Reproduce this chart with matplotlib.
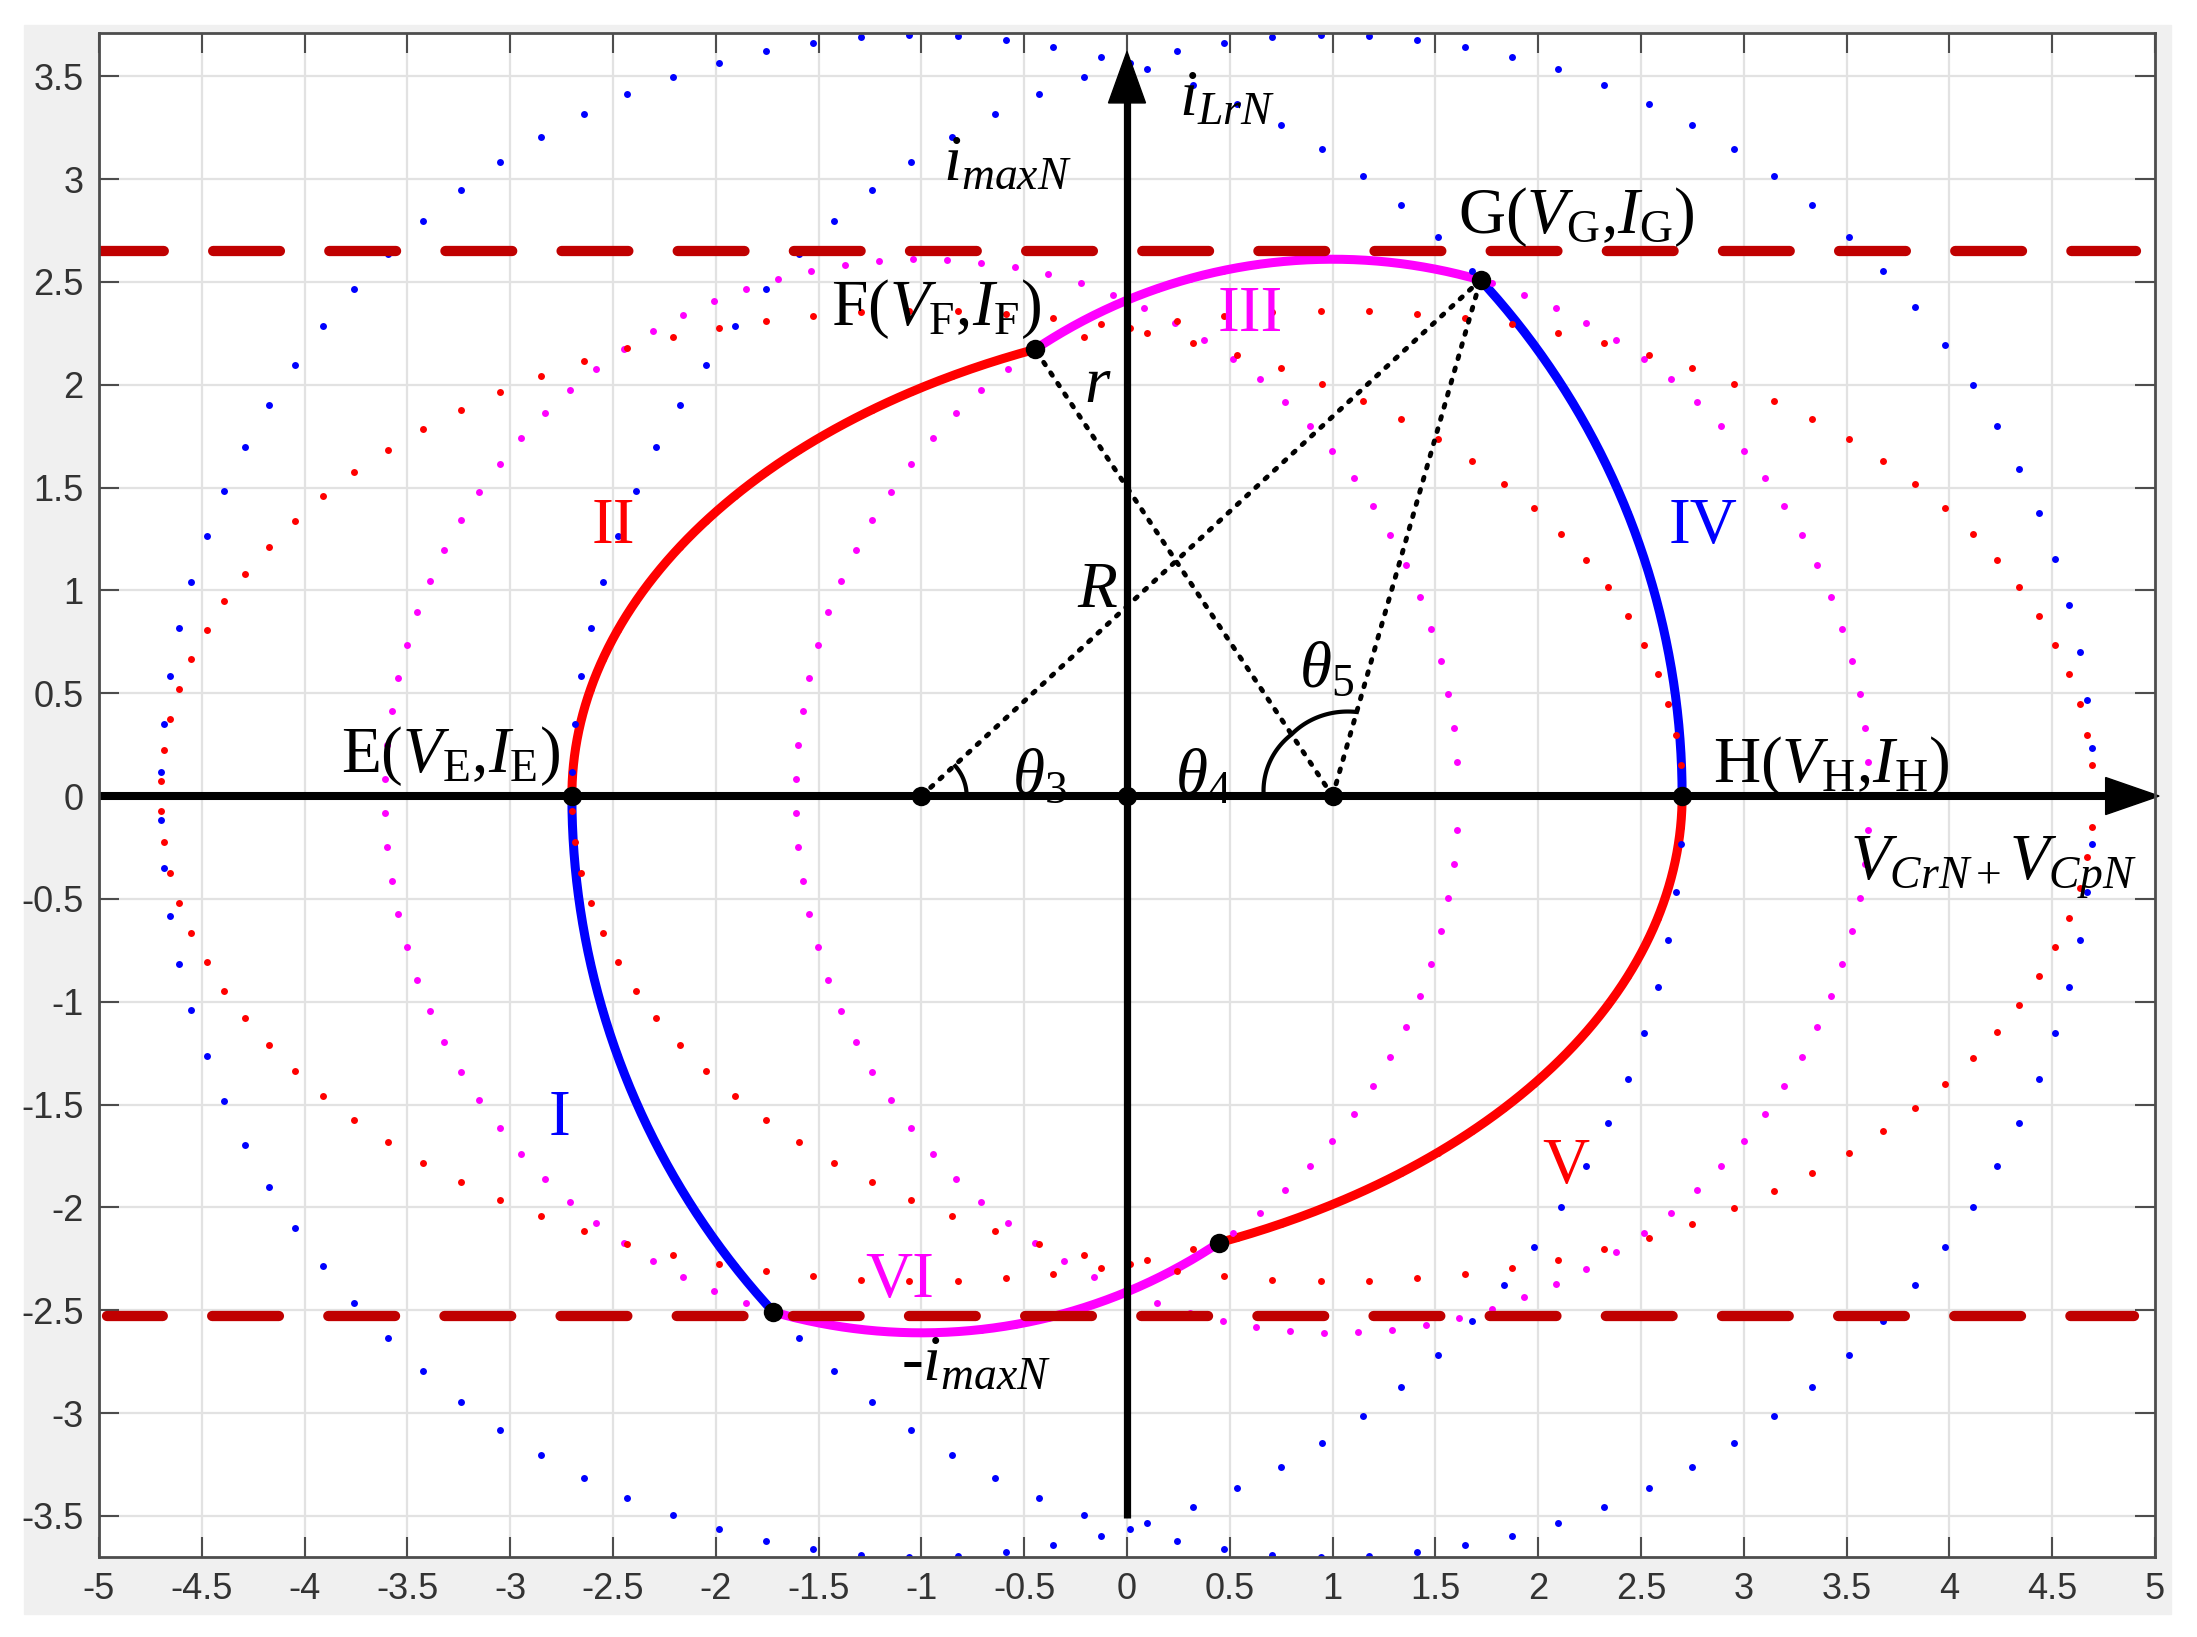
import numpy as np
import matplotlib
matplotlib.use("Agg")
import matplotlib.pyplot as plt
from matplotlib.patches import Rectangle, Polygon

# values (normalised plane)
centers = [-1.0, 1.0]        # resonance centres on the voltage axis
R_big = 3.7                  # blue circles, radius R
r_small = 2.61               # magenta circles, radius r
ell_a, ell_b = 3.7, 2.36     # red ellipses, semi axes
n_dots = 100                 # points per dotted curve
i_max_top = 2.65             # dashed limit lines
i_max_bot = -2.53

xticks = np.arange(-5, 5.01, 0.5)
yticks = np.arange(-3.5, 3.51, 0.5)

plt.rcParams["axes.unicode_minus"] = False
plt.rcParams["mathtext.fontset"] = "custom"
plt.rcParams["mathtext.rm"] = "Liberation Serif"
plt.rcParams["mathtext.it"] = "Liberation Serif:italic"

SERIF = "Liberation Serif"
BLUE, RED, MAG, DRED = "#0000ff", "#ff0000", "#ff00ff", "#c00000"

fig = plt.figure(figsize=(21.97, 16.37), dpi=100, facecolor="white")
fig.patches.append(Rectangle((24 / 2197, 1 - 1614 / 1637), 2147 / 2197, 1589 / 1637,
                             transform=fig.transFigure, color="#f0f0f0", zorder=-10))
ax = fig.add_axes([99 / 2197, 1 - 1557 / 1637, 2056 / 2197, 1524 / 1637])
ax.set_xlim(-5, 5)
ax.set_ylim(-3.70, 3.71)

# dotted circles / ellipses
th = np.linspace(0, 2 * np.pi, n_dots)
for c in centers:
    ax.plot(c + r_small * np.cos(th), r_small * np.sin(th), "o", color=MAG, ms=5, mew=0, zorder=4)
    ax.plot(c + ell_a * np.cos(th), ell_b * np.sin(th), "o", color=RED, ms=5, mew=0, zorder=4)
    ax.plot(c + R_big * np.cos(th), R_big * np.sin(th), "o", color=BLUE, ms=5, mew=0, zorder=4)

# switching points
gx = (R_big ** 2 - r_small ** 2) / 4
gy = np.sqrt(r_small ** 2 - (gx - 1) ** 2)
u2 = (1 - r_small ** 2 / ell_b ** 2) / (1 / ell_a ** 2 - 1 / ell_b ** 2)
fx = 1 - np.sqrt(u2)
fy = np.sqrt(r_small ** 2 - u2)
ex, hx = 1 - R_big, R_big - 1


def arc(cx, rx, ry, t0, t1):
    t = np.linspace(t0, t1, 200)
    return cx + rx * np.cos(t), ry * np.sin(t)


tF = np.arctan2(fy / ell_b, (fx - 1) / ell_a)
segs = [
    (arc(1, R_big, R_big, np.pi, np.arctan2(-gy, -gx - 1) + 2 * np.pi), BLUE),          # I
    (arc(1, ell_a, ell_b, tF, np.pi), RED),                                             # II
    (arc(1, r_small, r_small, np.arctan2(gy, gx - 1), np.arctan2(fy, fx - 1)), MAG),    # III
    (arc(-1, R_big, R_big, 0, np.arctan2(gy, gx + 1)), BLUE),                           # IV
    (arc(-1, ell_a, ell_b, tF - np.pi, 0), RED),                                        # V
    (arc(-1, r_small, r_small, np.arctan2(-gy, -gx + 1) + 2 * np.pi,
         np.arctan2(-fy, -fx + 1) + 2 * np.pi), MAG),                                   # VI
]
for (xs, ys), col in segs:
    ax.plot(xs, ys, color=col, lw=6.5, solid_capstyle="butt", zorder=3)

# dashed limits
ax.plot([-5.01, 4.91], [i_max_top] * 2, color=DRED, lw=7.4,
        linestyle=(0, (6.5, 4.8)), dash_capstyle="round", zorder=5)
ax.plot([-4.96, 4.90], [i_max_bot] * 2, color=DRED, lw=7.4,
        linestyle=(1.07, (6.5, 4.8)), dash_capstyle="round", zorder=5)

# coordinate axes with arrows
ax.plot([-5.0, 4.8], [0, 0], color="k", lw=5.8, solid_capstyle="round", zorder=6)
ax.plot([0, 0], [-3.51, 3.4], color="k", lw=5.2, solid_capstyle="butt", zorder=6)
ax.add_patch(Polygon([(5.02, 0), (4.76, 0.09), (4.76, -0.09)], color="k", zorder=6, clip_on=False))
ax.add_patch(Polygon([(0, 3.62), (-0.09, 3.37), (0.09, 3.37)], color="k", zorder=6))

# construction lines
dot_kw = dict(color="k", lw=3.5, linestyle=(0, (0.6, 2.0)), dash_capstyle="round", zorder=6)
ax.plot([-1, gx], [0, gy], **dot_kw)
ax.plot([1, gx], [0, gy], **dot_kw)
ax.plot([1, fx], [0, fy], **dot_kw)

# angle marks
t = np.linspace(0, np.arctan2(gy, gx + 1) * 0.97, 50)
ax.plot(-1 + 0.22 * np.cos(t), 0.22 * np.sin(t), color="k", lw=3, zorder=6)
a_g, a_f = np.arctan2(gy, gx - 1), np.arctan2(fy, fx - 1)
t = np.linspace(a_g, np.pi, 120)
rad = np.interp(t, [a_g, a_f, np.pi], [0.425, 0.36, 0.335])
ax.plot(1 + rad * np.cos(t), rad * np.sin(t), color="k", lw=3, zorder=6)

# key points
px = [ex, -1, 0, 1, hx, fx, gx, -gx, -fx]
py = [0, 0, 0, 0, 0, fy, gy, -gy, -fy]
ax.plot(px, py, "o", color="k", ms=14, mew=0, zorder=7)

fs = 47
tk = dict(fontsize=fs, family=SERIF, zorder=8, va="baseline")
ax.text(-3.823, 0.118, r"E($V_{\mathrm{E}}$,$I_{\mathrm{E}}$)", ha="left", **tk)
ax.text(-1.44, 2.29, r"F($V_{\mathrm{F}}$,$I_{\mathrm{F}}$)", ha="left", **tk)
ax.text(1.608, 2.736, r"G($V_{\mathrm{G}}$,$I_{\mathrm{G}}$)", ha="left", **tk)
ax.text(2.848, 0.07, r"H($V_{\mathrm{H}}$,$I_{\mathrm{H}}$)", ha="left", **tk)
ax.text(3.517, -0.409, r"$V_{CrN+}V_{CpN}$", ha="left", **tk)
ax.text(0.252, 3.313, r"$i_{LrN}$", ha="left", **tk)
ax.text(-0.897, 2.996, r"$i_{maxN}$", ha="left", **tk)
ax.text(-1.099, -2.84, r"-$i_{maxN}$", ha="left", **tk)
ax.text(-0.14, 1.916, r"$r$", ha="center", **tk)
ax.text(-0.145, 0.92, r"$R$", ha="center", **tk)
ax.text(-0.56, 0.01, r"$\theta_3$", ha="left", **tk)
ax.text(0.232, 0.01, r"$\theta_4$", ha="left", **tk)
ax.text(0.839, 0.53, r"$\theta_5$", ha="left", **tk)

numerals = [("II", -2.50, 1.23, RED), ("III", 0.60, 2.262, MAG), ("IV", 2.80, 1.23, BLUE),
            ("I", -2.76, -1.65, BLUE), ("V", 2.135, -1.88, RED), ("VI", -1.105, -2.437, MAG)]
for s, x, y, col in numerals:
    ax.text(x, y, s, ha="center", color=col, **tk)

# MATLAB style frame
ax.set_xticks(xticks)
ax.set_yticks(yticks)
ax.set_xticklabels(["%g" % v for v in xticks])
ax.set_yticklabels(["%g" % v for v in yticks])
ax.grid(True, color="#e2e2e2", lw=1.6, zorder=0)
ax.set_axisbelow(True)
ax.tick_params(direction="in", length=14.4, width=1.5, color="#4d4d4d",
               top=True, right=True, labelsize=26, labelcolor="#333333", pad=11)
for s in ax.spines.values():
    s.set_color("#4d4d4d")
    s.set_linewidth(2.0)
    s.set_zorder(9)
for lab in ax.get_xticklabels() + ax.get_yticklabels():
    lab.set_family("Liberation Sans")

fig.savefig("out.png", dpi=100, facecolor="white")
